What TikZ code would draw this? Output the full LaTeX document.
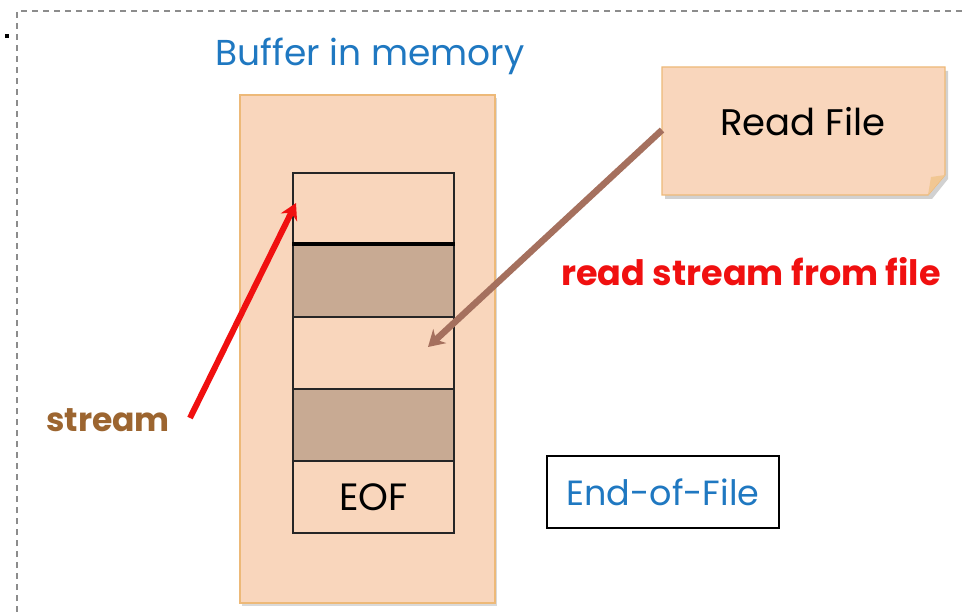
\documentclass[tikz,border=0pt]{standalone}
\usepackage{fontspec}
\setmainfont{Poppins}
\usetikzlibrary{shadows,arrows.meta}
\definecolor{peach}{HTML}{F9D6BC}
\definecolor{peachborder}{HTML}{EDB978}
\definecolor{cellbrown}{HTML}{C8AA93}
\definecolor{txtblue}{HTML}{1F78C1}
\definecolor{streambrown}{HTML}{9C6530}
\definecolor{arrowbrown}{HTML}{A5705E}
\definecolor{redtxt}{HTML}{F01010}
\tikzset{
  cell/.style={draw=black!85, line width=1.8pt, minimum width=161pt, minimum height=72pt, inner sep=0pt, anchor=north west},
  lightcell/.style={cell, fill=peach},
  darkcell/.style={cell, fill=cellbrown},
}
\begin{document}
\begin{tikzpicture}[x=1pt,y=-1pt]
\useasboundingbox (0,0) rectangle (963,612);
% dashed frame
\draw[gray!90, line width=1.5pt, dash pattern=on 6pt off 5pt] (17,612) -- (17,11) -- (963,11);
\fill[black] (5,34) rectangle (9,38);
% title
\node[text=txtblue, font=\fontsize{36}{40}\selectfont] (title) at (370,56) {Buffer in memory};
% outer buffer
\node[draw=peachborder, fill=peach, line width=1.2pt, minimum width=255pt, minimum height=508pt, inner sep=0pt,
      drop shadow={shadow xshift=2pt, shadow yshift=-3pt, opacity=0.3}] (buffer) at (367.5,349) {};
% cells
\node[lightcell] (c1) at (292,172) {};
\node[darkcell] (c2) at (292,244) {};
\node[lightcell] (c3) at (292,316) {};
\node[darkcell] (c4) at (292,388) {};
\node[lightcell, font=\fontsize{38}{40}\selectfont] (c5) at (292,460) {EOF};
\draw[line width=3.5pt, black] (c2.north west) -- (c2.north east);
% read file note
\fill[black, opacity=0.18] (665,71) -- (948,71) -- (948,179) -- (932,199) -- (665,199) -- cycle;
\draw[peachborder, fill=peach, line width=1.2pt] (662,67) -- (945,67) -- (945,175) -- (928,195) -- (662,195) -- cycle;
\fill[peachborder!80] (945,175) -- (928,195) -- (931,177) -- cycle;
\node[font=\fontsize{37}{40}\selectfont] (readfile) at (803,122) {Read File};
\coordinate (rfleft) at (662,130);
% labels
\node[text=redtxt, font=\bfseries\fontsize{35}{38}\selectfont] (rsff) at (751,272) {read stream from file};
\node[text=streambrown, font=\bfseries\fontsize{33}{36}\selectfont] (stream) at (108,420) {stream};
\coordinate (streamend) at (190,418);
\coordinate (c1tip) at (296,203);
\coordinate (c3tip) at (428,347);
% end-of-file box
\node[draw=black, line width=2.5pt, fill=white, minimum width=232pt, minimum height=72pt, text=txtblue,
      font=\fontsize{35}{38}\selectfont] (eofbox) at (663,492) {End-of-File};
% arrows
\draw[redtxt, line width=6pt, -{Stealth[length=16pt,width=18pt]}] (streamend) -- (c1tip);
\draw[arrowbrown, line width=6.5pt, -{Stealth[length=16pt,width=19pt]}] (rfleft) -- (c3tip);
\end{tikzpicture}
\end{document}
